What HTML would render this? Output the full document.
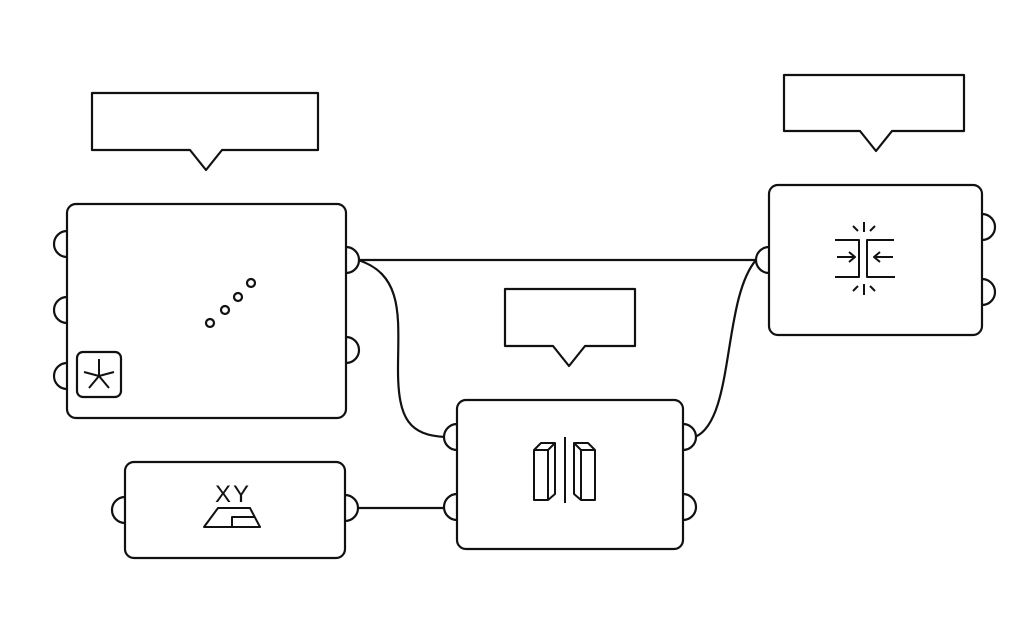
<!DOCTYPE html>
<html><head><meta charset="utf-8"><style>html,body{margin:0;padding:0;background:#fff}</style></head>
<body>
<svg width="1024" height="638" viewBox="0 0 1024 638" xmlns="http://www.w3.org/2000/svg" fill="none" stroke="#111" stroke-width="2.2" stroke-linejoin="round">
<!-- wires -->
<path d="M358 260 L756 260"/>
<path d="M358 260 C405 275 398 320 398 370 C398 420 410 435 445 437"/>
<path d="M695 437 C735 420 722 300 756 260"/>
<path d="M358 508 L445 508"/>
<!-- callouts -->
<path d="M92 93 H318 V150 H222 L206 170 L190 150 H92 Z"/>
<path d="M784 75 H964 V131 H892 L876 151 L860 131 H784 Z"/>
<path d="M505 289 H635 V346 H585 L569 366 L553 346 H505 Z"/>
<g fill="#fff">
<ellipse cx="67" cy="244" rx="13" ry="13"/><ellipse cx="67" cy="310" rx="13" ry="13"/><ellipse cx="67" cy="376" rx="13" ry="13"/>
<ellipse cx="346" cy="260" rx="13" ry="13"/><ellipse cx="346" cy="350" rx="13" ry="13"/>
<ellipse cx="125" cy="510" rx="13" ry="13"/><ellipse cx="345" cy="508" rx="13" ry="13"/>
<ellipse cx="457" cy="437" rx="13" ry="13"/><ellipse cx="457" cy="507" rx="13" ry="13"/>
<ellipse cx="683" cy="437" rx="13" ry="13"/><ellipse cx="683" cy="507" rx="13" ry="13"/>
<ellipse cx="769" cy="260" rx="13" ry="13"/><ellipse cx="982" cy="227" rx="13" ry="13"/><ellipse cx="982" cy="292" rx="13" ry="13"/>
</g>
<rect x="67" y="204" width="279" height="214" rx="9" fill="#fff"/>
<rect x="77" y="352" width="44" height="45" rx="6"/>
<path d="M99 359 V376 M99 376 L89 388 M99 376 L109 388 M99 376 L84 372 M99 376 L114 372" stroke-width="2"/>
<circle cx="210" cy="323" r="4"/><circle cx="225" cy="310" r="4"/><circle cx="238" cy="297" r="4"/><circle cx="251" cy="283" r="4"/>
<rect x="125" y="462" width="220" height="96" rx="9" fill="#fff"/>
<text x="233" y="502" font-family="Liberation Sans, sans-serif" font-size="24" fill="#111" stroke="none" text-anchor="middle" letter-spacing="2">XY</text>
<path d="M204 527 L218 508 H250 L260 527 Z M232 527 V517 H254" stroke-width="2"/>
<rect x="457" y="400" width="226" height="149" rx="9" fill="#fff"/>
<path d="M534 450 H548 V500 H534 Z M534 450 L541 443 H555 L548 450 M555 443 V494 L548 500" stroke-width="2"/>
<path d="M595 450 H581 V500 H595 Z M595 450 L588 443 H574 L581 450 M574 443 V494 L581 500" stroke-width="2"/>
<path d="M565 437 V503" stroke-width="2"/>
<rect x="769" y="185" width="213" height="150" rx="9" fill="#fff"/>
<g stroke-width="2">
<path d="M835 240 H859 V277 H835 M894 240 H867 V277 H895"/>
<path d="M837 257 H855 M849 252 L855 257 L849 262 M893 257 H874 M880 252 L874 257 L880 262"/>
<path d="M864 222 V232 M853 226 L858 231 M875 226 L870 231 M864 284 V295 M853 291 L858 286 M875 291 L870 286"/>
</g>
</svg>
</body></html>
